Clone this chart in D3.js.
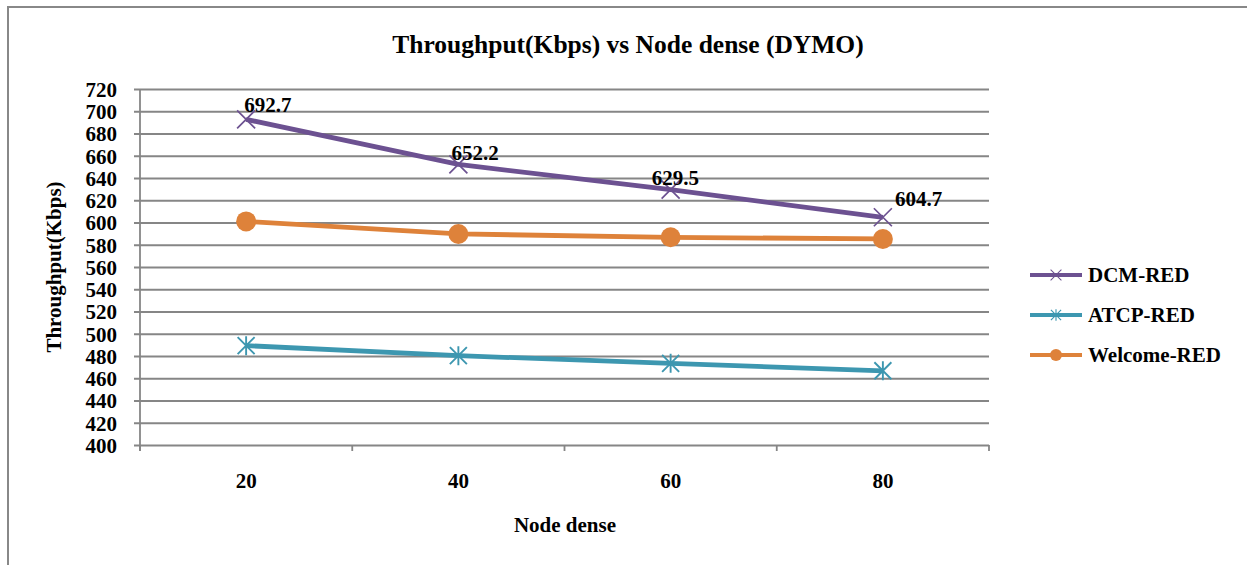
<!DOCTYPE html>
<html>
<head>
<meta charset="utf-8">
<title>Throughput vs Node dense (DYMO)</title>
<script src="https://d3js.org/d3.v7.min.js"></script>
<style>
  body { margin: 0; background: #fff; }
  svg text { font-family: "Liberation Serif", "Times New Roman", serif; font-weight: bold; fill: #000; }
</style>
</head>
<body>
<svg id="chart" width="1247" height="565"></svg>
<script>
// node density categories
var nodes = ["20", "40", "60", "80"];
// throughput values (Kbps)
var dcmRed = [692.7, 652.2, 629.5, 604.7];
var atcpRed = [489.3, 480.3, 473.4, 466.7];
var welcomeRed = [601.0, 589.7, 586.7, 585.2];
var seriesNames = ["DCM-RED", "ATCP-RED", "Welcome-RED"];
var yTicks = d3.range(400, 721, 20);

var colors = {"DCM-RED": "#6c5191", "ATCP-RED": "#3d97b0", "Welcome-RED": "#de823a"};
var markers = {"DCM-RED": "x", "ATCP-RED": "star", "Welcome-RED": "circle"};

var svg = d3.select("#chart");

// chart frame (only top/left edges visible in the window)
svg.append("rect")
  .attr("x", 8).attr("y", 7)
  .attr("width", 1300).attr("height", 600)
  .attr("fill", "none").attr("stroke", "#888").attr("stroke-width", 2);

var plot = {left: 140, right: 989, top: 89, bottom: 445};

var x = d3.scaleBand().domain(nodes).range([plot.left, plot.right]);
var y = d3.scaleLinear().domain([400, 720]).range([plot.bottom, plot.top]);

// gridlines + y axis
var yAxis = svg.append("g")
  .attr("transform", "translate(" + plot.left + ",0)")
  .call(d3.axisLeft(y).tickValues(yTicks).tickSize(6).tickPadding(17));
yAxis.select(".domain").remove();
yAxis.selectAll(".tick line").attr("stroke", "#868686").attr("stroke-width", 1.8)
  .attr("x1", -6).attr("x2", plot.right - plot.left);
yAxis.selectAll(".tick text").style("font-size", "21px").attr("dy", "0.35em");

svg.append("line")
  .attr("x1", plot.left).attr("x2", plot.left)
  .attr("y1", plot.top).attr("y2", plot.bottom + 6)
  .attr("stroke", "#868686").attr("stroke-width", 1.8);

// x axis: ticks at band boundaries, labels at band centres
var bounds = nodes.map(function(d) { return x(d); }).concat([plot.right]);
svg.append("g").selectAll("line")
  .data(bounds).enter().append("line")
  .attr("x1", function(d) { return d; }).attr("x2", function(d) { return d; })
  .attr("y1", plot.bottom).attr("y2", plot.bottom + 6)
  .attr("stroke", "#868686").attr("stroke-width", 1.8);
svg.append("g").selectAll("text")
  .data(nodes).enter().append("text")
  .attr("x", function(d) { return x(d) + x.bandwidth() / 2; })
  .attr("y", 488)
  .attr("text-anchor", "middle")
  .style("font-size", "21px")
  .text(function(d) { return d; });

// titles
svg.append("text").attr("x", 628).attr("y", 53).attr("text-anchor", "middle")
  .style("font-size", "25.5px").text("Throughput(Kbps) vs Node dense (DYMO)");
svg.append("text").attr("x", 565).attr("y", 532).attr("text-anchor", "middle")
  .style("font-size", "21px").text("Node dense");
svg.append("text").attr("transform", "translate(61,267) rotate(-90)")
  .attr("text-anchor", "middle").style("font-size", "21px").text("Throughput(Kbps)");

function drawMarker(g, type, color, cx, cy) {
  if (type === "circle") {
    g.append("circle").attr("cx", cx).attr("cy", cy).attr("r", 10).attr("fill", color);
  } else if (type === "x") {
    var s = 9;
    g.append("path")
      .attr("d", "M" + (cx - s) + "," + (cy - s) + "L" + (cx + s) + "," + (cy + s) +
                 "M" + (cx - s) + "," + (cy + s) + "L" + (cx + s) + "," + (cy - s))
      .attr("stroke", color).attr("stroke-width", 1.7);
  } else {
    var s = 8.5;
    g.append("path")
      .attr("d", "M" + (cx - s) + "," + (cy - s) + "L" + (cx + s) + "," + (cy + s) +
                 "M" + (cx - s) + "," + (cy + s) + "L" + (cx + s) + "," + (cy - s) +
                 "M" + cx + "," + (cy - s - 1) + "L" + cx + "," + (cy + s + 1))
      .attr("stroke", color).attr("stroke-width", 1.9);
  }
}

var allSeries = [dcmRed, atcpRed, welcomeRed];
var line = d3.line()
  .x(function(d, i) { return x(nodes[i]) + x.bandwidth() / 2; })
  .y(function(d) { return y(d); });

allSeries.forEach(function(vals, k) {
  var name = seriesNames[k];
  var g = svg.append("g");
  g.append("path").datum(vals).attr("d", line)
    .attr("fill", "none").attr("stroke", colors[name]).attr("stroke-width", 4.8)
    .attr("stroke-linejoin", "round");
  vals.forEach(function(v, i) {
    drawMarker(g, markers[name], colors[name], x(nodes[i]) + x.bandwidth() / 2, y(v));
  });
});

// data labels on DCM-RED (Excel nudges them to avoid overlaps)
var labelNudge = [[-2, -7], [-7, -4], [-19, -5], [12, -11]];
svg.append("g").selectAll("text")
  .data(dcmRed).enter().append("text")
  .attr("x", function(d, i) { return x(nodes[i]) + x.bandwidth() / 2 + labelNudge[i][0]; })
  .attr("y", function(d, i) { return y(d) + labelNudge[i][1]; })
  .style("font-size", "21px")
  .text(function(d) { return d.toFixed(1); });

// legend
var legend = svg.append("g");
seriesNames.forEach(function(name, k) {
  var ly = 275 + k * 40;
  legend.append("line").attr("x1", 1030).attr("x2", 1082).attr("y1", ly).attr("y2", ly)
    .attr("stroke", colors[name]).attr("stroke-width", 4);
  var lg = legend.append("g");
  if (markers[name] === "circle") {
    lg.append("circle").attr("cx", 1056).attr("cy", ly).attr("r", 6).attr("fill", colors[name]);
  } else {
    drawMarker(lg, markers[name], colors[name], 1056, ly);
    lg.selectAll("path").attr("transform", "translate(1056," + ly + ") scale(0.6) translate(-1056," + (-ly) + ")");
  }
  legend.append("text").attr("x", 1088).attr("y", ly).attr("dy", "0.35em")
    .style("font-size", "21px").text(name);
});
</script>
</body>
</html>
